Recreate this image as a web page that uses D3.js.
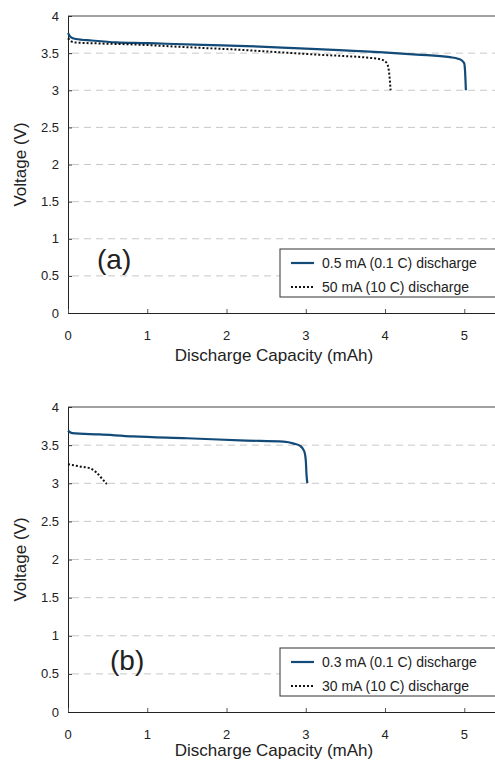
<!DOCTYPE html>
<html>
<head>
<meta charset="utf-8">
<script src="https://cdn.jsdelivr.net/npm/d3@7"></script>
<style>
  body { margin: 0; background: #fff; }
  text { font-family: "Liberation Sans", Arial, sans-serif; fill: #222; }
</style>
</head>
<body>
<script>
// panel (a) values: [capacity mAh, voltage V]
const slowA = [[0,3.77],[0.03,3.72],[0.1,3.69],[0.3,3.67],[0.61,3.645],[1.0,3.635],[1.24,3.626],
  [1.7,3.61],[2.25,3.595],[2.7,3.575],[3.14,3.555],[3.6,3.53],[3.98,3.51],[4.4,3.48],
  [4.82,3.445],[4.92,3.425],[4.97,3.40],[5.0,3.36],[5.01,3.25],[5.02,3.0]];
const fastA = [[0,3.70],[0.07,3.645],[0.4,3.63],[0.82,3.617],[1.5,3.58],[2.25,3.54],
  [2.7,3.51],[3.14,3.48],[3.5,3.46],[3.77,3.44],[3.95,3.415],[4.02,3.37],[4.05,3.25],[4.07,3.0]];
// panel (b)
const slowB = [[0,3.69],[0.05,3.658],[0.4,3.64],[0.82,3.614],[1.5,3.59],[2.25,3.56],
  [2.72,3.545],[2.85,3.52],[2.93,3.49],[2.98,3.42],[3.0,3.3],[3.01,3.1],[3.02,3.0]];
const fastB = [[0,3.25],[0.15,3.22],[0.28,3.195],[0.36,3.14],[0.43,3.06],[0.49,2.99]];

const xTicks = [0, 1, 2, 3, 4, 5];
const yTicks = [0, 0.5, 1, 1.5, 2, 2.5, 3, 3.5, 4];

const W = 495, H = 761;
const svg = d3.select("body").append("svg").attr("width", W).attr("height", H);

const navy = "#124a78";

function drawPanel(p) {
  const x = d3.scaleLinear().domain([0, 5.4]).range([68, 496]);
  const y = d3.scaleLinear().domain([0, 4]).range([p.bottom, p.top]);
  const g = svg.append("g");

  // dashed grid
  g.selectAll("line.grid").data(yTicks.filter(d => d > 0 && d < 4)).enter().append("line")
    .attr("x1", 72).attr("x2", W).attr("y1", d => y(d)).attr("y2", d => y(d))
    .attr("stroke", "#c8c8c8").attr("stroke-dasharray", "7,5").attr("stroke-width", 1);

  // frame: top, left, bottom
  g.append("line").attr("x1", x(0)).attr("x2", W).attr("y1", y(4)).attr("y2", y(4))
    .attr("stroke", "#444").attr("stroke-width", 1);

  const yAxis = g.append("g").attr("transform", `translate(${x(0)},0)`)
    .call(d3.axisRight(y).tickValues(yTicks).tickSize(4).tickFormat(""));
  yAxis.select(".domain").attr("stroke", "#222");
  yAxis.selectAll(".tick line").attr("stroke", "#333");

  const xAxis = g.append("g").attr("transform", `translate(0,${y(0)})`)
    .call(d3.axisTop(x).tickValues(xTicks).tickSize(4).tickFormat(""));
  xAxis.select(".domain").attr("stroke", "#222");
  xAxis.selectAll(".tick line").attr("stroke", "#555");

  g.selectAll("text.ylab").data(yTicks).enter().append("text")
    .attr("x", 59).attr("y", d => y(d)).attr("dy", "0.35em")
    .attr("text-anchor", "end").attr("font-size", 13).text(d => d);
  g.selectAll("text.xlab").data(xTicks).enter().append("text")
    .attr("x", d => x(d)).attr("y", y(0) + 27)
    .attr("text-anchor", "middle").attr("font-size", 13).text(d => d);

  g.append("text").attr("x", 274).attr("y", p.titleY).attr("text-anchor", "middle")
    .attr("font-size", 17).text("Discharge Capacity (mAh)");
  g.append("text").attr("transform", `translate(26,${(y(0) + y(4)) / 2}) rotate(-90)`)
    .attr("text-anchor", "middle").attr("font-size", 17).text("Voltage (V)");

  const line = d3.line().curve(d3.curveMonotoneX).x(d => x(d[0])).y(d => y(d[1]));
  g.append("path").datum(p.slow).attr("d", line).attr("fill", "none")
    .attr("stroke", navy).attr("stroke-width", 2.2);
  g.append("path").datum(p.fast).attr("d", line).attr("fill", "none")
    .attr("stroke", "#111").attr("stroke-width", 2).attr("stroke-dasharray", "2,2");

  g.append("text").attr("x", p.tagX).attr("y", p.tagY).attr("font-size", 28).text(p.tag);

  // legend
  const lg = g.append("g").attr("transform", `translate(280,${p.legY})`);
  lg.append("rect").attr("width", 220).attr("height", 48)
    .attr("fill", "#fff").attr("stroke", "#333").attr("stroke-width", 1);
  lg.append("line").attr("x1", 11).attr("x2", 34).attr("y1", 14).attr("y2", 14)
    .attr("stroke", navy).attr("stroke-width", 2.2);
  lg.append("line").attr("x1", 11).attr("x2", 34).attr("y1", 38).attr("y2", 38)
    .attr("stroke", "#111").attr("stroke-width", 2).attr("stroke-dasharray", "2,2");
  lg.append("text").attr("x", 42).attr("y", 14).attr("dy", "0.35em").attr("font-size", 14).text(p.leg[0]);
  lg.append("text").attr("x", 42).attr("y", 38).attr("dy", "0.35em").attr("font-size", 14).text(p.leg[1]);
}

drawPanel({ top: 16, bottom: 313, slow: slowA, fast: fastA, tag: "(a)", tagX: 97, tagY: 269, legY: 249,
  titleY: 361, leg: ["0.5 mA (0.1 C) discharge", "50 mA (10 C) discharge"] });
drawPanel({ top: 407, bottom: 712, slow: slowB, fast: fastB, tag: "(b)", tagX: 110, tagY: 670, legY: 648,
  titleY: 756, leg: ["0.3 mA (0.1 C) discharge", "30 mA (10 C) discharge"] });
</script>
</body>
</html>
